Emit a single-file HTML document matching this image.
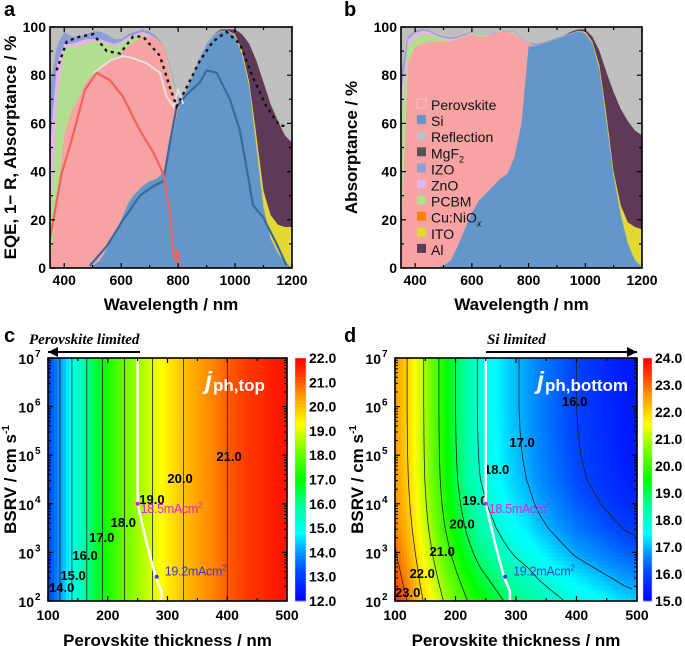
<!DOCTYPE html>
<html><head><meta charset="utf-8"><style>
html,body{margin:0;padding:0;background:#fff}
svg{display:block}
text{font-family:"Liberation Sans",Arial,sans-serif}
</style></head><body>
<svg id="fig" width="685" height="646" viewBox="0 0 685 646" xmlns="http://www.w3.org/2000/svg">
<defs>
<clipPath id="clipA"><rect x="50" y="27" width="242" height="241"/></clipPath>
<clipPath id="clipB"><rect x="401" y="27" width="241" height="241"/></clipPath>
<clipPath id="clipC"><rect x="48" y="358" width="239" height="243"/></clipPath>
<clipPath id="clipD"><rect x="395" y="358" width="242" height="243"/></clipPath>
</defs>
<text x="4" y="16" font-size="20" font-weight="bold">a</text>
<text x="344" y="16" font-size="20" font-weight="bold">b</text>
<text x="4" y="342" font-size="20" font-weight="bold">c</text>
<text x="344" y="342" font-size="20" font-weight="bold">d</text>
</svg>
<script>
// ---------- data: panels a & b (wavelength grid, cumulative layer tops in %) ----------
const wl=[350,375,400,425,450,475,500,525,550,575,600,625,650,675,700,725,750,775,800,825,850,875,900,925,950,975,1000,1025,1050,1075,1100,1125,1150,1175,1200];
const aSi  =[0,0,0,0,0,0,1,3,8,14,20,27,31,34,36,37,40,52,66,72,79,86,92,96,98,98,96,88,75,50,25,12,6,2,0];
const aPvk =[3,28,55,65,70,77,80,82,85,87,89,92,94,96,96,95,92,78,67,0,0,0,0,0,0,0,0,0,0,0,0,0,0,0,0];
const aPcbm=[15,70,91,92,92,93,94,94,93,92,93,95,96,97,96,94,90,80,68,0,0,0,0,0,0,0,0,0,0,0,0,0,0,0,0];
const aZno =[50,85,93,93,94,95,95,95,94,93,94,96,97,98,97,95,91,81,69,0,0,0,0,0,0,0,0,0,0,0,0,0,0,0,0];
const aIzo =[75,92,98,96,96,97,98,98,97,95,95,97,98,99,98,96,92,82,70,73,80,87,93,97,98.5,98.5,96.5,88.5,75.5,50.5,25.5,12.5,6.5,2.5,0.5];
const aIto =[0,0,0,0,0,0,0,0,0,0,0,0,0,0,0,0,0,0,0,0,0,0,0,0,0,0,97,90,77,55,32,22,18,17,17];
const aAl  =[0,0,0,0,0,0,0,0,0,0,0,0,0,0,0,0,0,0,0,0,0,0,0,0,99,99,99,97,93,86,77,68,61,55,52];
const bSi  =[0,0,0,0,0,0,1,3,9,16,23,28,31,34,37,39,46,60,92,92,93,94,95,96,97,98,97,93,82,60,38,22,10,3,0];
const bPvk =[10,85,92,93,94,94,94,94,95,96,97,96,96,97,98,98,97,95,93,0,0,0,0,0,0,0,0,0,0,0,0,0,0,0,0];
const bPcbm=[60,92,96,97,97,96,95,94,95,96,97.5,97,96.5,97,98,98,97.5,95,93,0,0,0,0,0,0,0,0,0,0,0,0,0,0,0,0];
const bZno =[72,95,97.5,98.5,98,96.5,95.5,95,95.5,96.5,97.8,97,96.7,97.3,98,98.3,97.8,95.3,93.3,0,0,0,0,0,0,0,0,0,0,0,0,0,0,0,0];
const bIzo =[80,96,98.5,99,98.5,97,96,95.5,96,97,98,97,96.5,97.5,98,98.5,98,95.5,93.5,93,93.5,94.5,95.5,96.5,97.5,98.5,97.5,93.5,82.5,60.5,38.5,22.5,10.5,3.5,0.5];
const bIto =[0,0,0,0,0,0,0,0,0,0,0,0,0,0,0,0,0,0,0,0,0,0,0,0,0,0,98,94,84,63,40,26,19,17,16];
const bAl  =[0,0,0,0,0,0,0,0,0,0,0,0,0,0,0,0,0,0,0,0,0,0,0,0,98,99,99,96,90,81,73,66,61,57,55];
// EQE / 1-R lines (panel a)
const redWl=[350,390,426,473,514,560,607,666,713,748,771,783,790,798,806];
const redEqe=[12,39,53,74,81,78,71,57,48,39,23,6,3,7.6,0];
const blueWl=[490,549,607,666,713,748,771,795,830,876,900,935,982,1017,1040,1063,1099,1146,1181];
const blueEqe=[1,9,20,30,34,36,52,67,72,77,82,81,70,57,42,26,21,10,1];
const sumWl=[502,561,607,642,689,713,736,760,783,800,818];
const sumEqe=[81,86,88,87,85,83,81,71,67,74,68];
const oneMinusRWl=[373,409,455,502,549,596,642,677,736,771,795,830,876,923,970,1017,1063,1110,1157,1180];
const oneMinusR=[82,94,96,97,90,89,96,96,88,75,67,75,86,94,98,93,79,67,59,59];
// ---------- data: panels c & d ----------
const thick=[100,120,140,160,180,200,220,240,260,280,300,320,340,360,380,400,420,440,460,480,500];
const jTop=[13.1,14.0,15.0,15.8,16.6,17.3,17.8,18.3,18.7,19.1,19.5,19.9,20.2,20.5,20.7,21.0,21.2,21.4,21.5,21.7,21.8];
const jBotHighBsrv=[22.6,22.0,21.3,20.5,19.7,19.0,18.4,17.9,17.6,17.3,17.05,16.85,16.6,16.4,16.2,16.0,15.85,15.7,15.55,15.4,15.3];
const jBotGainLow=[0.9,1.0,0.9,1.1,1.3,1.5,1.6,1.7,1.7,1.7,1.72,1.74,1.76,1.78,1.8,1.82,1.84,1.86,1.88,1.89,1.9];
const logBsrv=[2,2.5,3,3.5,4,4.5,5,5.5,6,6.5,7];
const gainScale=[1,0.75,0.5,0.3,0.16,0.07,0.03,0.01,0,0,0];
const matchT=[250,250,265,280,290,290];
const matchS=[7,4,3.2,2.5,2.2,2];
const markT=[250,282]; const markS=[4,2.5];
const markLabel=["18.5mAcm","19.2mAcm"];
const cLevels=[14,15,16,17,18,19,20,21];
const cLabelT=[123,142,162,190,226,274,321,403]; const cLabelS=[2.29,2.53,2.95,3.32,3.63,4.1,4.53,4.98];
const dLevels=[16,17,18,19,20,21,22,23];
const dLabelT=[397,310,268,232,211,178,145,121]; const dLabelS=[6.12,5.27,4.72,4.08,3.59,3.03,2.58,2.19];
const cbarCTicks=[12,13,14,15,16,17,18,19,20,21,22];
const cbarDTicks=[15,16,17,18,19,20,21,22,23,24];

const NS="http://www.w3.org/2000/svg";
const svg=document.getElementById('fig');
function mk(tag,attrs,parent){const e=document.createElementNS(NS,tag);for(const k in attrs)e.setAttribute(k,attrs[k]);(parent||svg).appendChild(e);return e;}
function interp(xs,ys,x){if(x<=xs[0])return ys[0];for(let i=1;i<xs.length;i++){if(x<=xs[i]){const f=(x-xs[i-1])/(xs[i]-xs[i-1]);return ys[i-1]+f*(ys[i]-ys[i-1]);}}return ys[ys.length-1];}
const stops=[[0,[0,0,255]],[0.12,[0,70,255]],[0.2,[0,150,255]],[0.28,[0,255,255]],[0.4,[0,255,150]],[0.5,[0,255,0]],[0.62,[120,255,0]],[0.73,[255,255,0]],[0.85,[255,150,0]],[0.93,[255,60,0]],[1,[255,0,0]]];
function cmap(n){n=Math.max(0,Math.min(1,n));for(let i=1;i<stops.length;i++){if(n<=stops[i][0]){const f=(n-stops[i-1][0])/(stops[i][0]-stops[i-1][0]);const a=stops[i-1][1],b=stops[i][1];return 'rgb('+a.map((v,k)=>Math.round(v+f*(b[k]-v))).join(',')+')';}}return 'rgb(255,0,0)';}

// ---------- spectral panels ----------
function spectral(P,layers,clip,name){
  const g=mk('g',{'clip-path':'url(#'+clip+')'});
  
  
  const X=v=>P.L+(v-350)/850*(P.R-P.L), Y=v=>P.B-v/100*(P.B-P.T);
  const bg=mk('rect',{x:P.L,y:P.T,width:P.R-P.L,height:P.B-P.T,fill:'#c0c0c0'},g);
  
  
  const cum=[];let prev=wl.map(()=>0);
  layers.forEach(l=>{const c=l.data.map((v,i)=>Math.max(v,prev[i]));cum.push(c);prev=c;});
  for(let k=layers.length-1;k>=0;k--){
    let d='M'+X(wl[0])+','+Y(0);
    wl.forEach((w,i)=>{d+=' L'+X(w).toFixed(1)+','+Y(cum[k][i]).toFixed(1);});
    d+=' L'+X(1200)+','+Y(0)+' Z';
    const p=mk('path',{d:d,fill:layers[k].color,stroke:'none'},g);
    
    
  }
  return {g,X,Y};
}
function frame(P,name){
  const r=mk('rect',{x:P.L,y:P.T,width:P.R-P.L,height:P.B-P.T,fill:'none',stroke:'#000','stroke-width':1.6});
  
  
}
function specAxes(P,X,Y,ytitle,ytx,name){
  frame(P,name);
  for(let v=400;v<=1200;v+=100){const x=X(v);const len=(v%200===0)?5:3;
    mk('line',{x1:x,y1:P.B,x2:x,y2:P.B-len,stroke:'#000','stroke-width':1.2});
    mk('line',{x1:x,y1:P.T,x2:x,y2:P.T+len,stroke:'#000','stroke-width':1.2});
    if(v%200===0){const t=mk('text',{x:x,y:P.B+17,'font-size':14,'font-weight':'bold','text-anchor':'middle'});t.textContent=v;
      
      }}
  for(let v=0;v<=100;v+=10){const y=Y(v);const len=(v%20===0)?5:3;
    mk('line',{x1:P.L,y1:y,x2:P.L+len,y2:y,stroke:'#000','stroke-width':1.2});
    mk('line',{x1:P.R,y1:y,x2:P.R-len,y2:y,stroke:'#000','stroke-width':1.2});
    if(v%20===0){const t=mk('text',{x:P.L-4,y:y+5,'font-size':14,'font-weight':'bold','text-anchor':'end'});t.textContent=v;
      
      }}
  const xt=mk('text',{x:(P.L+P.R)/2,y:P.B+42,'font-size':17,'font-weight':'bold','text-anchor':'middle'});xt.textContent='Wavelength / nm';
  
  
  const yt=mk('text',{x:0,y:0,'font-size':17,'font-weight':'bold','text-anchor':'middle',transform:'translate('+ytx+','+((P.T+P.B)/2)+') rotate(-90)'});yt.textContent=ytitle;
  
  
}
const COL={si:'#6497c9',pvk:'#f7a3a3',pcbm:'#b1df8f',zno:'#e6b3ea',izo:'#8c9fd6',ito:'#e3d932',al:'#5e3a56'};
const PA={L:50,R:292,T:27,B:268};
const A=spectral(PA,[{name:'si',data:aSi,color:COL.si},{name:'perovskite',data:aPvk,color:COL.pvk},{name:'pcbm',data:aPcbm,color:COL.pcbm},{name:'zno',data:aZno,color:COL.zno},{name:'izo',data:aIzo,color:COL.izo},{name:'ito',data:aIto,color:COL.ito},{name:'al',data:aAl,color:COL.al}],'clipA','panel-a');
function line(g,X,Y,xs,ys,attrs,name){const pts=xs.map((x,i)=>X(x).toFixed(1)+','+Y(ys[i]).toFixed(1)).join(' ');
  const p=mk('polyline',Object.assign({points:pts,fill:'none'},attrs),g);
  
  }
line(A.g,A.X,A.Y,blueWl,blueEqe,{stroke:'#3a6a9c','stroke-width':2.2},'eqe-bottom-line');
line(A.g,A.X,A.Y,redWl,redEqe,{stroke:'#f06262','stroke-width':2.2},'eqe-top-line');
line(A.g,A.X,A.Y,sumWl,sumEqe,{stroke:'#e4e4e4','stroke-width':1.8},'eqe-sum-line');
line(A.g,A.X,A.Y,oneMinusRWl,oneMinusR,{stroke:'#111','stroke-width':2.4,'stroke-dasharray':'3,4'},'one-minus-r-line');
specAxes(PA,A.X,A.Y,'EQE, 1\u2212 R, Absorptance / %',16,'panel-a');

const PB={L:401,R:642,T:27,B:268};
const B=spectral(PB,[{name:'si',data:bSi,color:COL.si},{name:'perovskite',data:bPvk,color:COL.pvk},{name:'pcbm',data:bPcbm,color:COL.pcbm},{name:'zno',data:bZno,color:COL.zno},{name:'izo',data:bIzo,color:COL.izo},{name:'ito',data:bIto,color:COL.ito},{name:'al',data:bAl,color:COL.al}],'clipB','panel-b');
specAxes(PB,B.X,B.Y,'Absorptance / %',357,'panel-b');
const legNames=['Perovskite','Si','Reflection','MgF2','IZO','ZnO','PCBM','Cu:NiOx','ITO','Al'];
const legCols=[COL.pvk,COL.si,'#c0c0c0','#555555',COL.izo,COL.zno,COL.pcbm,'#ff7f00',COL.ito,COL.al];
legNames.forEach((n,i)=>{const y=106+i*16.1;
  const r=mk('rect',{x:417,y:y-7,width:9,height:9,fill:legCols[i],stroke:i===0?'#f9c8c8':'none','stroke-width':0.8});
  
  
  const t=mk('text',{x:431,y:y+4,'font-size':14,fill:'#111'});
  
  
  if(n==='MgF2'){t.textContent='MgF';const s=mk('tspan',{'font-size':9,dy:4},t);s.textContent='2';}
  else if(n==='Cu:NiOx'){t.textContent='Cu:NiO';const s=mk('tspan',{'font-size':9,dy:4,'font-style':'italic'},t);s.textContent='x';}
  else t.textContent=n;});

// ---------- contour panels ----------
function jb(t,s){return interp(thick,jBotHighBsrv,t)+interp(thick,jBotGainLow,t)*interp(logBsrv,gainScale,s);}
function jt(t,s){return interp(thick,jTop,t);}
function contourPanel(P,fn,vmin,vmax,clip,levels,lT,lS,ticks,cbx,cbw,name,title,titleX){
  const X=t=>P.L+(t-100)/400*(P.R-P.L), Y=s=>P.B-(s-2)/5*(P.B-P.T);
  const g=mk('g',{'clip-path':'url(#'+clip+')'});
  
  
  const nx=80,ny=60;
  for(let i=0;i<nx;i++)for(let j=0;j<ny;j++){
    const t=100+(i+0.5)*400/nx, s=2+(j+0.5)*5/ny;
    const c=mk('rect',{x:(X(100+i*400/nx)).toFixed(2),y:(Y(2+(j+1)*5/ny)).toFixed(2),width:((P.R-P.L)/nx+0.6).toFixed(2),height:((P.B-P.T)/ny+0.6).toFixed(2),fill:cmap((fn(t,s)-vmin)/(vmax-vmin))},g);
    
    
  }
  levels.forEach(lv=>{let segs=[],cur=[];
    for(let s=2;s<=7.0001;s+=0.05){let found=null;
      for(let t=100;t<500;t+=1){const a=fn(t,s),b=fn(t+1,s);if((a-lv)*(b-lv)<=0&&a!==b){found=t+(a-lv)/(a-b);break;}}
      if(found!==null)cur.push(X(found).toFixed(1)+','+Y(s).toFixed(1));else if(cur.length){segs.push(cur);cur=[];}}
    if(cur.length)segs.push(cur);
    segs.forEach(sg=>{const p=mk('polyline',{points:sg.join(' '),fill:'none',stroke:'#222','stroke-width':0.8},g);
      
      });});
  levels.forEach((lv,i)=>{const t=mk('text',{x:X(lT[i]),y:Y(lS[i])+5,'font-size':13,'font-weight':'bold','text-anchor':'middle'},g);t.textContent=lv.toFixed(1);
    
    });
  const ml=mk('polyline',{points:matchT.map((t,i)=>X(t)+','+Y(matchS[i])).join(' '),fill:'none',stroke:'#fff','stroke-width':2.5},g);
  
  
  const mcol=['#e020e0','#3a3ad8'];
  markT.forEach((t,i)=>{const c=mk('circle',{cx:X(t),cy:Y(markS[i]),r:2,fill:mcol[i]},g);
    
    
    const tx=mk('text',{x:X(t)+(i===0?3:8),y:Y(markS[i])+(i===0?9:-1),'font-size':12.5,fill:mcol[i],'letter-spacing':'-0.3'},g);tx.textContent=markLabel[i];
    const sp=mk('tspan',{'font-size':8,dy:-5},tx);sp.textContent='2';
    
    });
  const tt=mk('text',{x:titleX,y:P.T+31,'font-size':17,'font-weight':'bold',fill:'#fff'});
  
  
  const j=mk('tspan',{'font-size':25,'font-style':'italic'},tt);j.textContent='j';
  const sub=mk('tspan',{dy:2,dx:1},tt);sub.textContent=title;
  frame(P,name);
  for(let v=100;v<=500;v+=50){const x=X(v);const len=v%100===0?5:3;
    mk('line',{x1:x,y1:P.B,x2:x,y2:P.B-len,stroke:'#000','stroke-width':1.2});
    mk('line',{x1:x,y1:P.T,x2:x,y2:P.T+len,stroke:'#000','stroke-width':1.2});
    if(v%100===0){const t=mk('text',{x:x,y:P.B+19,'font-size':14,'font-weight':'bold','text-anchor':'middle'});t.textContent=v;
      
      }}
  for(let e=2;e<=7;e++){const y=Y(e);
    mk('line',{x1:P.L,y1:y,x2:P.L+5,y2:y,stroke:'#000','stroke-width':1.2});
    mk('line',{x1:P.R,y1:y,x2:P.R-5,y2:y,stroke:'#000','stroke-width':1.2});
    if(e<7)for(let m=2;m<10;m++){const ym=Y(e+Math.log10(m));mk('line',{x1:P.L,y1:ym,x2:P.L+3,y2:ym,stroke:'#000','stroke-width':1});mk('line',{x1:P.R,y1:ym,x2:P.R-3,y2:ym,stroke:'#000','stroke-width':1});}
    const t=mk('text',{x:P.L-14,y:y+6,'font-size':14,'font-weight':'bold','text-anchor':'end'});t.textContent='10';
    const s=mk('text',{x:P.L-13,y:y-1,'font-size':10,'font-weight':'bold'});s.textContent=e;
    
    
    
    }
  const xt=mk('text',{x:(P.L+P.R)/2,y:P.B+45,'font-size':17,'font-weight':'bold','text-anchor':'middle'});xt.textContent='Perovskite thickness / nm';
  
  
  const yt=mk('text',{x:0,y:0,'font-size':17,'font-weight':'bold','text-anchor':'middle',transform:'translate('+(P.L-32)+','+((P.T+P.B)/2)+') rotate(-90)'});yt.textContent='BSRV / cm s';
  const ys=mk('tspan',{'font-size':10,dy:-7},yt);ys.textContent='-1';
  
  
  const cg=mk('g',{});
  
  
  const n=80;for(let k=0;k<n;k++){const v=vmin+(k+0.5)*(vmax-vmin)/n;
    mk('rect',{x:cbx,y:(P.B-(k+1)*(P.B-P.T)/n).toFixed(2),width:cbw,height:((P.B-P.T)/n+0.5).toFixed(2),fill:cmap((v-vmin)/(vmax-vmin))},cg);}
  mk('rect',{x:cbx,y:P.T,width:cbw,height:P.B-P.T,fill:'none',stroke:'#ccc','stroke-width':0.5},cg);
  ticks.forEach(v=>{const y=P.B-(v-vmin)/(vmax-vmin)*(P.B-P.T);
    const t=mk('text',{x:cbx+cbw+3,y:y+5,'font-size':14,'font-weight':'bold'},cg);t.textContent=v.toFixed(1);
    
    });
}
const PC={L:48,R:287,T:358,B:601};
contourPanel(PC,jt,12,22,'clipC',cLevels,cLabelT,cLabelS,cbarCTicks,295,11,'panel-c','ph,top',205);
const PD={L:395,R:637,T:358,B:601};
contourPanel(PD,jb,15,24,'clipD',dLevels,dLabelT,dLabelS,cbarDTicks,643,9,'panel-d','ph,bottom',537);

function note(txt,tx,ax1,ax2,name){
  const t=mk('text',{x:tx,y:344,'font-size':15,'font-weight':'bold','font-style':'italic',style:"font-family:'Liberation Serif',serif"});t.textContent=txt;
  
  
  const l=mk('line',{x1:ax1,y1:352,x2:ax2,y2:352,stroke:'#000','stroke-width':2});
  
  
  const dir=ax2>ax1?1:-1;
  mk('polygon',{points:(ax2)+',352 '+(ax2-dir*10)+',347 '+(ax2-dir*10)+',357',fill:'#000'});
}
note('Perovskite limited',29,140,48,'perovskite-limited');
note('Si limited',487,486,637,'si-limited');
</script>
</body></html>
